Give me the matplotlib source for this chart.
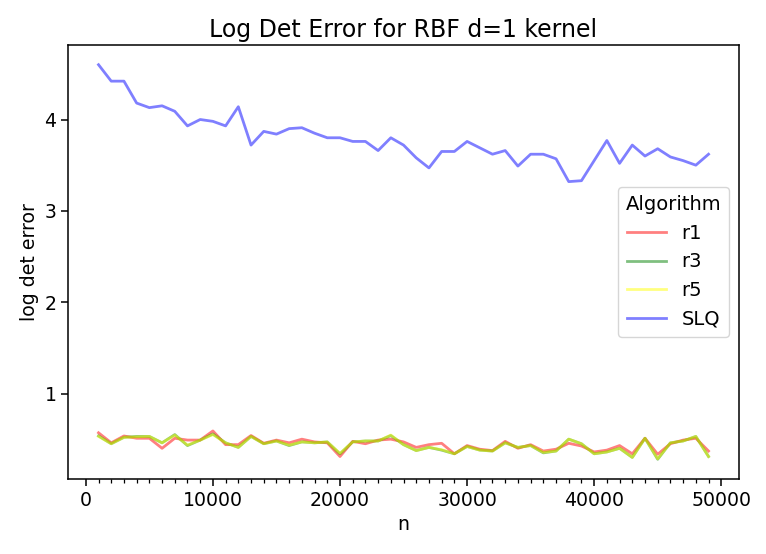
import matplotlib
matplotlib.use("Agg")
import matplotlib.pyplot as plt

n = list(range(1000, 50000, 1000))

slq = [4.60, 4.42, 4.42, 4.18, 4.13, 4.15, 4.09, 3.93, 4.00, 3.98,
       3.93, 4.14, 3.72, 3.87, 3.84, 3.90, 3.91, 3.85, 3.80, 3.80,
       3.76, 3.76, 3.66, 3.80, 3.72, 3.58, 3.47, 3.65, 3.65, 3.76,
       3.69, 3.62, 3.66, 3.49, 3.62, 3.62, 3.57, 3.32, 3.33, 3.55,
       3.77, 3.52, 3.72, 3.60, 3.68, 3.59, 3.55, 3.50, 3.62]

r1 = [0.57, 0.46, 0.535, 0.51, 0.51, 0.40, 0.51, 0.49, 0.49, 0.59,
      0.44, 0.44, 0.54, 0.455, 0.49, 0.46, 0.50, 0.47, 0.46, 0.31,
      0.476, 0.45, 0.49, 0.50, 0.47, 0.41, 0.44, 0.455, 0.34, 0.43,
      0.39, 0.375, 0.476, 0.40, 0.44, 0.37, 0.39, 0.455, 0.425, 0.36,
      0.38, 0.43, 0.34, 0.51, 0.335, 0.45, 0.49, 0.51, 0.37]

r3 = [0.535, 0.45, 0.52, 0.53, 0.53, 0.46, 0.55, 0.43, 0.49, 0.556,
      0.46, 0.41, 0.53, 0.45, 0.48, 0.43, 0.47, 0.46, 0.47, 0.34,
      0.47, 0.48, 0.48, 0.54, 0.44, 0.375, 0.41, 0.38, 0.34, 0.42,
      0.38, 0.37, 0.46, 0.41, 0.43, 0.35, 0.37, 0.50, 0.45, 0.34,
      0.36, 0.40, 0.30, 0.51, 0.28, 0.46, 0.48, 0.53, 0.31]

r5 = [0.53, 0.45, 0.52, 0.525, 0.53, 0.46, 0.545, 0.435, 0.49, 0.55,
      0.46, 0.41, 0.53, 0.45, 0.48, 0.435, 0.47, 0.46, 0.47, 0.345,
      0.47, 0.48, 0.48, 0.545, 0.44, 0.375, 0.41, 0.385, 0.34, 0.42,
      0.38, 0.37, 0.46, 0.41, 0.43, 0.355, 0.37, 0.50, 0.45, 0.34,
      0.36, 0.40, 0.30, 0.51, 0.285, 0.46, 0.48, 0.53, 0.31]

plt.rcParams["font.size"] = 13.6
fig = plt.figure(figsize=(7.66, 5.54), dpi=100)
ax = fig.add_axes([0.0888, 0.1354, 0.876, 0.7834])

ax.plot(n, r1, color="red", alpha=0.5, lw=2, label="r1")
ax.plot(n, r3, color="g", alpha=0.5, lw=2, label="r3")
ax.plot(n, r5, color="yellow", alpha=0.5, lw=2, label="r5")
ax.plot(n, slq, color="blue", alpha=0.5, lw=2, label="SLQ")

ax.set_xticks(n, minor=True)
ax.tick_params(which="major", length=4.8, width=1.1)
ax.tick_params(which="minor", length=2.7, width=0.9)
ax.set_yticks([1, 2, 3, 4])
for s in ax.spines.values():
    s.set_linewidth(1.1)

ax.set_title("Log Det Error for RBF d=1 kernel", fontsize=17)
ax.set_xlabel("n")
ax.set_ylabel("log det error")
ax.legend(title="Algorithm", loc="center right", fontsize=14, title_fontsize=14)

fig.savefig("out.png", dpi=100)
